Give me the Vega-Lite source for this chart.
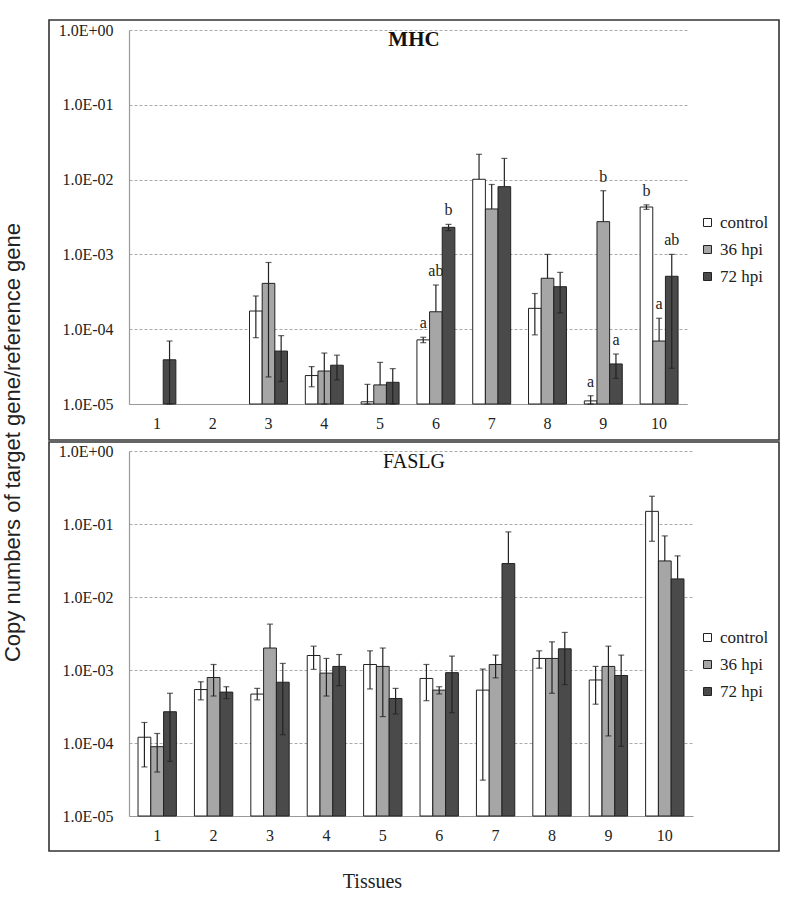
{
  "$schema": "https://vega.github.io/schema/vega-lite/v6.json",
  "padding": {"left": 2, "top": 19, "right": 0, "bottom": 0},
  "background": "white",
  "title": {"text": "Copy numbers of target gene/reference gene", "orient": "left", "anchor": "middle", "font": "Liberation Sans", "fontSize": 22, "fontWeight": "normal", "color": "#222", "offset": 23, "dx": 13},
  "config": {
    "view": {"stroke": "#333", "strokeWidth": 1.6},
    "concat": {"spacing": 0},
    "font": "Liberation Serif",
    "style": {"guide-label": {"font": "Liberation Serif"}, "guide-title": {"font": "Liberation Serif"}},
    "axis": {"labelFont": "Liberation Serif", "labelColor": "#222", "titleFont": "Liberation Serif"},
    "legend": {"labelFont": "Liberation Serif"}
  },
  "datasets": {
    "d": [
      {"gene": "MHC", "tissue": 1, "series": "72 hpi", "v": 3.9e-5, "hi": 6.95e-5, "lo": 1e-5},
      {"gene": "MHC", "tissue": 3, "series": "control", "v": 1.75e-4, "hi": 2.78e-4, "lo": 7.7e-5},
      {"gene": "MHC", "tissue": 3, "series": "36 hpi", "v": 4.1e-4, "hi": 7.8e-4, "lo": 2.3e-5},
      {"gene": "MHC", "tissue": 3, "series": "72 hpi", "v": 5.1e-5, "hi": 8.2e-5, "lo": 2.0e-5},
      {"gene": "MHC", "tissue": 4, "series": "control", "v": 2.4e-5, "hi": 3.16e-5, "lo": 1.7e-5},
      {"gene": "MHC", "tissue": 4, "series": "36 hpi", "v": 2.76e-5, "hi": 4.8e-5, "lo": 1e-5},
      {"gene": "MHC", "tissue": 4, "series": "72 hpi", "v": 3.3e-5, "hi": 4.5e-5, "lo": 2.1e-5},
      {"gene": "MHC", "tissue": 5, "series": "control", "v": 1.07e-5, "hi": 1.83e-5, "lo": 1e-5},
      {"gene": "MHC", "tissue": 5, "series": "36 hpi", "v": 1.8e-5, "hi": 3.6e-5, "lo": 1.8e-5},
      {"gene": "MHC", "tissue": 5, "series": "72 hpi", "v": 1.95e-5, "hi": 2.97e-5, "lo": 1e-5},
      {"gene": "MHC", "tissue": 6, "series": "control", "v": 7.2e-5, "hi": 7.8e-5, "lo": 6.6e-5, "sig": "a"},
      {"gene": "MHC", "tissue": 6, "series": "36 hpi", "v": 1.71e-4, "hi": 3.9e-4, "lo": 1.71e-4, "sig": "ab"},
      {"gene": "MHC", "tissue": 6, "series": "72 hpi", "v": 2.3e-3, "hi": 2.52e-3, "lo": 2.08e-3, "sig": "b"},
      {"gene": "MHC", "tissue": 7, "series": "control", "v": 1.01e-2, "hi": 2.18e-2, "lo": 1.01e-2},
      {"gene": "MHC", "tissue": 7, "series": "36 hpi", "v": 4.05e-3, "hi": 8.6e-3, "lo": 4.05e-3},
      {"gene": "MHC", "tissue": 7, "series": "72 hpi", "v": 8.05e-3, "hi": 1.92e-2, "lo": 8.05e-3},
      {"gene": "MHC", "tissue": 8, "series": "control", "v": 1.9e-4, "hi": 3.0e-4, "lo": 8.4e-5},
      {"gene": "MHC", "tissue": 8, "series": "36 hpi", "v": 4.8e-4, "hi": 1.0e-3, "lo": 4.8e-4},
      {"gene": "MHC", "tissue": 8, "series": "72 hpi", "v": 3.7e-4, "hi": 5.75e-4, "lo": 1.65e-4},
      {"gene": "MHC", "tissue": 9, "series": "control", "v": 1.1e-5, "hi": 1.29e-5, "lo": 1e-5, "sig": "a"},
      {"gene": "MHC", "tissue": 9, "series": "36 hpi", "v": 2.74e-3, "hi": 7.1e-3, "lo": 2.74e-3, "sig": "b"},
      {"gene": "MHC", "tissue": 9, "series": "72 hpi", "v": 3.43e-5, "hi": 4.66e-5, "lo": 2.2e-5, "sig": "a"},
      {"gene": "MHC", "tissue": 10, "series": "control", "v": 4.3e-3, "hi": 4.6e-3, "lo": 4.0e-3, "sig": "b"},
      {"gene": "MHC", "tissue": 10, "series": "36 hpi", "v": 6.95e-5, "hi": 1.4e-4, "lo": 6.95e-5, "sig": "a"},
      {"gene": "MHC", "tissue": 10, "series": "72 hpi", "v": 5.1e-4, "hi": 1.0e-3, "lo": 3e-5, "sig": "ab"},

      {"gene": "FASLG", "tissue": 1, "series": "control", "v": 1.2e-4, "hi": 1.91e-4, "lo": 4.7e-5},
      {"gene": "FASLG", "tissue": 1, "series": "36 hpi", "v": 8.9e-5, "hi": 1.35e-4, "lo": 4.0e-5},
      {"gene": "FASLG", "tissue": 1, "series": "72 hpi", "v": 2.68e-4, "hi": 4.8e-4, "lo": 5.6e-5},
      {"gene": "FASLG", "tissue": 2, "series": "control", "v": 5.4e-4, "hi": 6.9e-4, "lo": 3.9e-4},
      {"gene": "FASLG", "tissue": 2, "series": "36 hpi", "v": 7.9e-4, "hi": 1.19e-3, "lo": 4.4e-4},
      {"gene": "FASLG", "tissue": 2, "series": "72 hpi", "v": 4.98e-4, "hi": 5.9e-4, "lo": 4.06e-4},
      {"gene": "FASLG", "tissue": 3, "series": "control", "v": 4.68e-4, "hi": 5.6e-4, "lo": 3.9e-4},
      {"gene": "FASLG", "tissue": 3, "series": "36 hpi", "v": 2.0e-3, "hi": 4.25e-3, "lo": 2.0e-3},
      {"gene": "FASLG", "tissue": 3, "series": "72 hpi", "v": 6.8e-4, "hi": 1.23e-3, "lo": 1.3e-4},
      {"gene": "FASLG", "tissue": 4, "series": "control", "v": 1.58e-3, "hi": 2.12e-3, "lo": 1.02e-3},
      {"gene": "FASLG", "tissue": 4, "series": "36 hpi", "v": 9.06e-4, "hi": 1.44e-3, "lo": 4.4e-4},
      {"gene": "FASLG", "tissue": 4, "series": "72 hpi", "v": 1.12e-3, "hi": 1.63e-3, "lo": 6.1e-4},
      {"gene": "FASLG", "tissue": 5, "series": "control", "v": 1.19e-3, "hi": 1.83e-3, "lo": 5.5e-4},
      {"gene": "FASLG", "tissue": 5, "series": "36 hpi", "v": 1.12e-3, "hi": 2.0e-3, "lo": 2.3e-4},
      {"gene": "FASLG", "tissue": 5, "series": "72 hpi", "v": 4.07e-4, "hi": 5.6e-4, "lo": 2.5e-4},
      {"gene": "FASLG", "tissue": 6, "series": "control", "v": 7.66e-4, "hi": 1.19e-3, "lo": 3.8e-4},
      {"gene": "FASLG", "tissue": 6, "series": "36 hpi", "v": 5.3e-4, "hi": 5.9e-4, "lo": 4.7e-4},
      {"gene": "FASLG", "tissue": 6, "series": "72 hpi", "v": 9.2e-4, "hi": 1.55e-3, "lo": 2.6e-4},
      {"gene": "FASLG", "tissue": 7, "series": "control", "v": 5.3e-4, "hi": 1.03e-3, "lo": 3.1e-5},
      {"gene": "FASLG", "tissue": 7, "series": "36 hpi", "v": 1.19e-3, "hi": 1.6e-3, "lo": 7.8e-4},
      {"gene": "FASLG", "tissue": 7, "series": "72 hpi", "v": 2.87e-2, "hi": 7.8e-2, "lo": 2.87e-2},
      {"gene": "FASLG", "tissue": 8, "series": "control", "v": 1.44e-3, "hi": 1.83e-3, "lo": 1.06e-3},
      {"gene": "FASLG", "tissue": 8, "series": "36 hpi", "v": 1.44e-3, "hi": 2.43e-3, "lo": 4.8e-4},
      {"gene": "FASLG", "tissue": 8, "series": "72 hpi", "v": 1.95e-3, "hi": 3.27e-3, "lo": 6.3e-4},
      {"gene": "FASLG", "tissue": 9, "series": "control", "v": 7.3e-4, "hi": 1.12e-3, "lo": 3.4e-4},
      {"gene": "FASLG", "tissue": 9, "series": "36 hpi", "v": 1.12e-3, "hi": 2.12e-3, "lo": 1.25e-4},
      {"gene": "FASLG", "tissue": 9, "series": "72 hpi", "v": 8.4e-4, "hi": 1.6e-3, "lo": 9.0e-5},
      {"gene": "FASLG", "tissue": 10, "series": "control", "v": 0.149, "hi": 0.24, "lo": 0.058},
      {"gene": "FASLG", "tissue": 10, "series": "36 hpi", "v": 3.12e-2, "hi": 6.87e-2, "lo": 3.12e-2},
      {"gene": "FASLG", "tissue": 10, "series": "72 hpi", "v": 1.77e-2, "hi": 3.66e-2, "lo": 1.77e-2}
    ]
  },
  "resolve": {
    "scale": {"x": "independent", "y": "independent", "fill": "independent", "xOffset": "independent"},
    "legend": {"fill": "independent"}
  },
  "vconcat": [
    {
      "width": 730,
      "height": 420,
      "data": {"name": "d"},
      "transform": [{"filter": "datum.gene === 'MHC'"}],
      "title": {"text": "MHC", "font": "Liberation Serif", "fontSize": 21, "fontWeight": "bold", "color": "#111", "anchor": "middle", "offset": -30},
      "encoding": {
        "x": {
          "field": "tissue", "type": "ordinal",
          "scale": {"domain": [1, 2, 3, 4, 5, 6, 7, 8, 9, 10], "range": [80, 638], "paddingInner": 0.32, "paddingOuter": 0.16},
          "axis": {"title": null, "ticks": false, "labelAngle": 0, "labelFont": "Liberation Serif", "labelFontSize": 16, "labelPadding": 11, "domainColor": "#999", "domainWidth": 1.2, "offset": -36, "grid": false}
        },
        "xOffset": {"field": "series", "type": "nominal", "scale": {"domain": ["control", "36 hpi", "72 hpi"], "paddingInner": 0, "paddingOuter": 0}}
      },
      "layer": [
        {
          "mark": {"type": "bar", "stroke": "#222", "strokeWidth": 1},
          "encoding": {
            "y": {
              "field": "v", "type": "quantitative",
              "scale": {"type": "log", "domain": [1e-5, 1], "range": [384, 10]},
              "axis": {"title": null, "values": [1e-5, 1e-4, 1e-3, 1e-2, 1e-1, 1], "labelExpr": "datum.value >= 1 ? '1.0E+00' : '1.0E-0' + format(-log(datum.value) / LN10, '.0f')", "labelFont": "Liberation Serif", "labelFontSize": 16, "labelPadding": 16, "ticks": false, "domainColor": "#999", "domainWidth": 1.2, "offset": -80, "grid": true, "gridColor": "#aaa", "gridDash": [3, 2], "gridWidth": 1}
            },
            "y2": {"datum": 1e-5},
            "fill": {
              "field": "series", "type": "nominal",
              "scale": {"domain": ["control", "36 hpi", "72 hpi"], "range": ["#ffffff", "#a6a6a6", "#4a4a4a"]},
              "legend": {"title": null, "orient": "none", "legendX": 650, "legendY": 194, "symbolType": "square", "symbolSize": 64, "symbolStrokeColor": "#222", "symbolStrokeWidth": 1, "labelFont": "Liberation Serif", "labelFontSize": 17, "labelColor": "#222", "rowPadding": 9, "labelOffset": 4}
            }
          }
        },
        {
          "mark": {"type": "rule", "color": "#222", "strokeWidth": 1.2},
          "encoding": {"y": {"field": "hi", "type": "quantitative"}, "y2": {"field": "lo"}}
        },
        {
          "mark": {"type": "tick", "color": "#222", "thickness": 1.2, "size": 6},
          "encoding": {"y": {"field": "hi", "type": "quantitative"}}
        },
        {
          "transform": [{"filter": "datum.lo < datum.v"}],
          "mark": {"type": "tick", "color": "#222", "thickness": 1.2, "size": 6},
          "encoding": {"y": {"field": "lo", "type": "quantitative"}}
        },
        {
          "transform": [{"filter": "isValid(datum.sig)"}],
          "mark": {"type": "text", "baseline": "alphabetic", "dy": -9, "fontSize": 16, "font": "Liberation Serif", "color": "#222"},
          "encoding": {"y": {"field": "hi", "type": "quantitative"}, "text": {"field": "sig"}}
        }
      ]
    },
    {
      "width": 730,
      "height": 409,
      "data": {"name": "d"},
      "transform": [{"filter": "datum.gene === 'FASLG'"}],
      "title": {"text": "FASLG", "font": "Liberation Serif", "fontSize": 20, "fontWeight": "normal", "color": "#111", "anchor": "middle", "offset": -30},
      "encoding": {
        "x": {
          "field": "tissue", "type": "ordinal",
          "scale": {"domain": [1, 2, 3, 4, 5, 6, 7, 8, 9, 10], "range": [80, 644], "paddingInner": 0.32, "paddingOuter": 0.16},
          "axis": {"title": "Tissues", "titleFont": "Liberation Serif", "titleFontSize": 20, "titleFontWeight": "normal", "titleColor": "#222", "titleX": 323, "titleAlign": "center", "titlePadding": 28, "ticks": false, "labelAngle": 0, "labelFont": "Liberation Serif", "labelFontSize": 16, "labelPadding": 11, "domainColor": "#999", "domainWidth": 1.2, "offset": -35, "grid": false}
        },
        "xOffset": {"field": "series", "type": "nominal", "scale": {"domain": ["control", "36 hpi", "72 hpi"], "paddingInner": 0, "paddingOuter": 0}}
      },
      "layer": [
        {
          "mark": {"type": "bar", "stroke": "#222", "strokeWidth": 1},
          "encoding": {
            "y": {
              "field": "v", "type": "quantitative",
              "scale": {"type": "log", "domain": [1e-5, 1], "range": [374, 9]},
              "axis": {"title": null, "values": [1e-5, 1e-4, 1e-3, 1e-2, 1e-1, 1], "labelExpr": "datum.value >= 1 ? '1.0E+00' : '1.0E-0' + format(-log(datum.value) / LN10, '.0f')", "labelFont": "Liberation Serif", "labelFontSize": 16, "labelPadding": 16, "ticks": false, "domainColor": "#999", "domainWidth": 1.2, "offset": -80, "grid": true, "gridColor": "#aaa", "gridDash": [3, 2], "gridWidth": 1}
            },
            "y2": {"datum": 1e-5},
            "fill": {
              "field": "series", "type": "nominal",
              "scale": {"domain": ["control", "36 hpi", "72 hpi"], "range": ["#ffffff", "#a6a6a6", "#4a4a4a"]},
              "legend": {"title": null, "orient": "none", "legendX": 650, "legendY": 187, "symbolType": "square", "symbolSize": 64, "symbolStrokeColor": "#222", "symbolStrokeWidth": 1, "labelFont": "Liberation Serif", "labelFontSize": 17, "labelColor": "#222", "rowPadding": 9, "labelOffset": 4}
            }
          }
        },
        {
          "mark": {"type": "rule", "color": "#222", "strokeWidth": 1.2},
          "encoding": {"y": {"field": "hi", "type": "quantitative"}, "y2": {"field": "lo"}}
        },
        {
          "mark": {"type": "tick", "color": "#222", "thickness": 1.2, "size": 6},
          "encoding": {"y": {"field": "hi", "type": "quantitative"}}
        },
        {
          "transform": [{"filter": "datum.lo < datum.v"}],
          "mark": {"type": "tick", "color": "#222", "thickness": 1.2, "size": 6},
          "encoding": {"y": {"field": "lo", "type": "quantitative"}}
        }
      ]
    }
  ]
}
